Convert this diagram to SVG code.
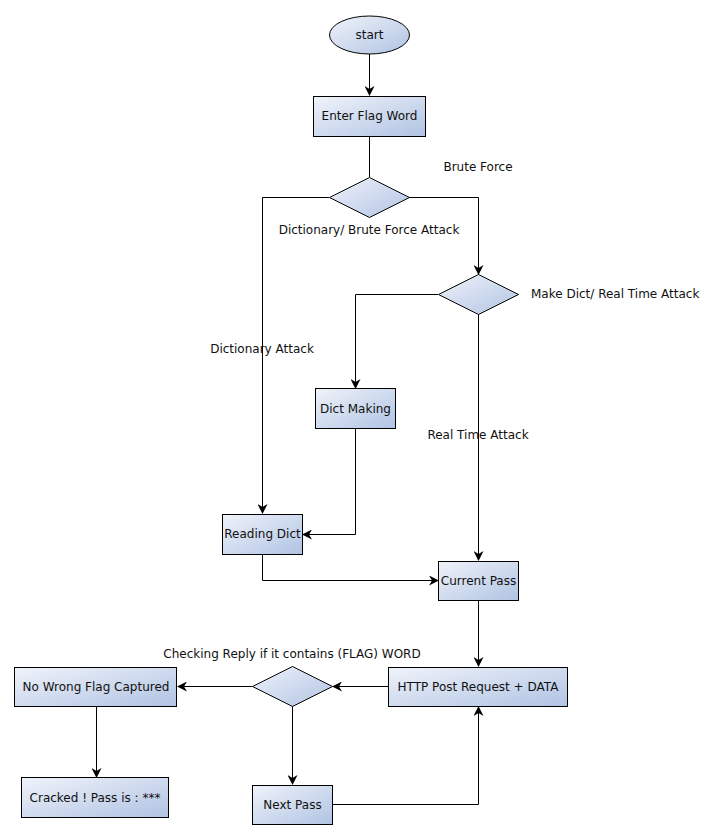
<svg xmlns="http://www.w3.org/2000/svg" width="719" height="840" viewBox="0 0 719 840">
<defs>
<linearGradient id="g" x1="0" y1="0" x2="1" y2="1">
<stop offset="0" stop-color="#f0f3fa"/>
<stop offset="1" stop-color="#b0c3e3"/>
</linearGradient>
<marker id="a" viewBox="0 0 10 10" refX="9" refY="5" markerWidth="10" markerHeight="10" markerUnits="userSpaceOnUse" orient="auto">
<path d="M0,0 L10,5 L0,10 L3,5 z" fill="#000"/>
</marker>
<style>
.n{fill:url(#g);stroke:#000;stroke-width:1}
.t{font-family:"DejaVu Sans","Liberation Sans",sans-serif;font-size:12px;fill:#111;text-anchor:middle;dominant-baseline:central}
.l{fill:none;stroke:#000;stroke-width:1;marker-end:url(#a)}
</style>
</defs>
<rect width="719" height="840" fill="#fff"/>
<g id="connectors">
<path class="l" d="M369.5,54 V95"/>
<path class="l" d="M369.5,136 V177" style="marker-end:none"/>
<path class="l" d="M329,197.5 H262.5 V513"/>
<path class="l" d="M409,197.5 H478.5 V274"/>
<path class="l" d="M438,294.5 H355.5 V388"/>
<path class="l" d="M478.5,314 V560"/>
<path class="l" d="M355.5,428 V534.5 H303"/>
<path class="l" d="M262.5,554 V580.5 H438"/>
<path class="l" d="M478.5,601 V666"/>
<path class="l" d="M388,686.5 H333"/>
<path class="l" d="M252,686.5 H178"/>
<path class="l" d="M96.5,706 V777"/>
<path class="l" d="M292.5,706 V784"/>
<path class="l" d="M332,804.5 H478.5 V707"/>
<text class="t" x="478" y="167">Brute Force</text>
<text class="t" x="369" y="230">Dictionary/ Brute Force Attack</text>
<text class="t" x="531" y="294" style="text-anchor:start">Make Dict/ Real Time Attack</text>
<text class="t" x="262" y="349">Dictionary Attack</text>
<text class="t" x="478" y="435">Real Time Attack</text>
<text class="t" x="292" y="654">Checking Reply if it contains (FLAG) WORD</text>
</g>
<g id="start"><ellipse class="n" cx="369.5" cy="35" rx="40" ry="19"/><text class="t" x="369.5" y="35">start</text></g>
<g id="enterFlag"><rect class="n" x="313.5" y="96.5" width="112" height="40"/><text class="t" x="369.5" y="116">Enter Flag Word</text></g>
<g id="decision1"><path class="n" d="M369.5,177.5 L409.5,197.5 L369.5,217.5 L329.5,197.5 Z"/></g>
<g id="decision2"><path class="n" d="M478.5,274.5 L518.5,294.5 L478.5,314.5 L438.5,294.5 Z"/></g>
<g id="dictMaking"><rect class="n" x="315.5" y="388.5" width="80" height="40"/><text class="t" x="355.5" y="408.5">Dict Making</text></g>
<g id="readingDict"><rect class="n" x="222.5" y="514.5" width="80" height="40"/><text class="t" x="262.5" y="534">Reading Dict</text></g>
<g id="currentPass"><rect class="n" x="438.5" y="561.5" width="80" height="39"/><text class="t" x="478.5" y="581">Current Pass</text></g>
<g id="httpPost"><rect class="n" x="388.5" y="667.5" width="179" height="39"/><text class="t" x="478" y="687">HTTP Post Request + DATA</text></g>
<g id="decision3"><path class="n" d="M292.5,666.5 L332.5,686.5 L292.5,706.5 L252.5,686.5 Z"/></g>
<g id="noWrongFlag"><rect class="n" x="14.5" y="667.5" width="162" height="39"/><text class="t" x="96" y="687">No Wrong Flag Captured</text></g>
<g id="cracked"><rect class="n" x="21.5" y="777.5" width="147" height="40"/><text class="t" x="95" y="797.5">Cracked ! Pass is : ***</text></g>
<g id="nextPass"><rect class="n" x="252.5" y="785.5" width="80" height="39"/><text class="t" x="292.5" y="805">Next Pass</text></g>
</svg>
